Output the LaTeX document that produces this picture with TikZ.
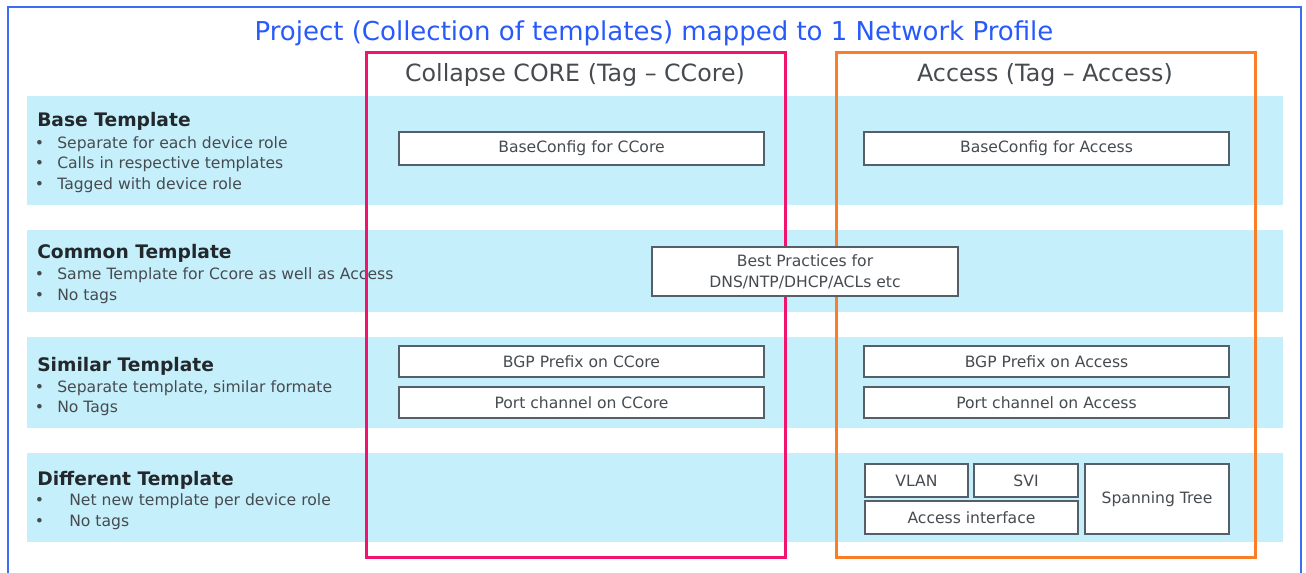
\documentclass[tikz,border=0pt]{standalone}
\usepackage{fontspec}
\setmainfont{DejaVu Sans}
\definecolor{frameblue}{RGB}{60,110,245}
\definecolor{titleblue}{RGB}{40,90,250}
\definecolor{bandblue}{RGB}{197,239,250}
\definecolor{corepink}{RGB}{240,20,110}
\definecolor{accorange}{RGB}{250,125,40}
\definecolor{boxgray}{RGB}{85,95,105}
\definecolor{txtgray}{RGB}{70,75,80}
\definecolor{headgray}{RGB}{35,40,45}

\begin{document}
\begin{tikzpicture}[x=0.75pt,y=-0.75pt,
    band/.style={fill=bandblue,draw=none},
    tbox/.style={draw=boxgray,fill=white,line width=1.1pt},
    boxtext/.style={inner sep=0pt,text=txtgray,align=center,font=\fontsize{11.7}{15.5}\selectfont},
    grouphead/.style={anchor=base west,inner sep=0pt,text=headgray,font=\bfseries\fontsize{14}{16}\selectfont},
    bulletline/.style={anchor=base west,inner sep=0pt,text=txtgray,font=\fontsize{11.7}{14}\selectfont},
    colhead/.style={anchor=base,inner sep=0pt,text=txtgray,font=\fontsize{17.8}{20}\selectfont}]
    \useasboundingbox (0,0) rectangle (1306,572);
    \clip (0,0) rectangle (1306,572);
    % outer frame and title
    \draw [frameblue,line width=1.9pt] (8,590) -- (8,7) -- (1301,7) -- (1301,590);
    \node [anchor=base,inner sep=0pt,text=titleblue,font=\fontsize{19.5}{22}\selectfont] (title) at (654,40) {Project (Collection of templates) mapped to 1 Network Profile};
    % bands
    \fill [band] (27,96) rectangle (1283,205);
    \fill [band] (27,230) rectangle (1283,312);
    \fill [band] (27,337) rectangle (1283,428);
    \fill [band] (27,453) rectangle (1283,542);
    % left descriptions
    \node [grouphead] (basehd) at (37,126) {Base Template};
    \node [bulletline] (base1) at (34.5,148) {\makebox[16.9pt][l]{•}Separate for each device role};
    \node [bulletline] (base2) at (34.5,168) {\makebox[16.9pt][l]{•}Calls in respective templates};
    \node [bulletline] (base3) at (34.5,189) {\makebox[16.9pt][l]{•}Tagged with device role};
    \node [grouphead] (commonhd) at (37,258) {Common Template};
    \node [bulletline] (common1) at (34.5,279) {\makebox[16.9pt][l]{•}Same Template for Ccore as well as Access};
    \node [bulletline] (common2) at (34.5,300) {\makebox[16.9pt][l]{•}No tags};
    \node [grouphead] (similarhd) at (37,371) {Similar Template};
    \node [bulletline] (similar1) at (34.5,392) {\makebox[16.9pt][l]{•}Separate template, similar formate};
    \node [bulletline] (similar2) at (34.5,412) {\makebox[16.9pt][l]{•}No Tags};
    \node [grouphead] (diffhd) at (37,485) {Different Template};
    \node [bulletline] (diff1) at (34.5,505) {\makebox[25.9pt][l]{•}Net new template per device role};
    \node [bulletline] (diff2) at (34.5,526) {\makebox[25.9pt][l]{•}No tags};
    % device role columns
    \draw [corepink,line width=2.25pt] (366,52) rectangle (785,557);
    \draw [accorange,line width=2.25pt] (836,52) rectangle (1255,557);
    \node [colhead] (corehd) at (575,81) {Collapse CORE (Tag – CCore)};
    \node [colhead] (acchd) at (1045,81) {Access (Tag – Access)};
    % template boxes
    \draw [tbox] (399,132) rectangle node [boxtext] (corebase) {BaseConfig for CCore} (764,165);
    \draw [tbox] (864,132) rectangle node [boxtext] (accbase) {BaseConfig for Access} (1229,165);
    \draw [tbox] (652,247) rectangle node [boxtext] (bestprac) {Best Practices for\\DNS/NTP/DHCP/ACLs etc} (958,296);
    \draw [tbox] (399,346) rectangle node [boxtext] (corebgp) {BGP Prefix on CCore} (764,377);
    \draw [tbox] (399,387) rectangle node [boxtext] (corepc) {Port channel on CCore} (764,418);
    \draw [tbox] (864,346) rectangle node [boxtext] (accbgp) {BGP Prefix on Access} (1229,377);
    \draw [tbox] (864,387) rectangle node [boxtext] (accpc) {Port channel on Access} (1229,418);
    \draw [tbox] (865,464) rectangle node [boxtext] (vlan) {VLAN} (968,497);
    \draw [tbox] (974,464) rectangle node [boxtext] (svi) {SVI} (1078,497);
    \draw [tbox] (865,501) rectangle node [boxtext] (accif) {Access interface} (1078,534);
    \draw [tbox] (1085,464) rectangle node [boxtext] (stp) {Spanning Tree} (1229,534);
\end{tikzpicture}
\end{document}
